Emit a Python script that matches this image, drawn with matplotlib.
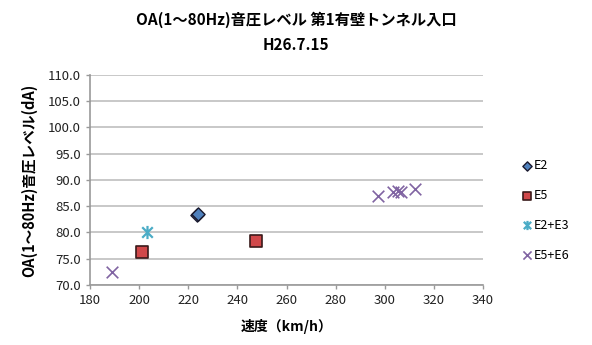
import matplotlib
matplotlib.use("Agg")
import matplotlib.pyplot as plt
from matplotlib.path import Path

plt.rcParams['font.family'] = ['Noto Sans CJK JP', 'DejaVu Sans']

# speed (km/h) vs OA level (dA) per train group
e2_speed = [223.4, 224.0]
e2_level = [83.3, 83.6]
e5_speed = [201.0, 247.6]
e5_level = [76.2, 78.3]
e2e3_speed = [203.1]
e2e3_level = [80.0]
e5e6_speed = [189.1, 297.1, 303.5, 305.5, 306.6, 312.3]
e5e6_level = [72.4, 87.0, 87.65, 87.9, 87.65, 88.3]

# Excel-like star: an x with a vertical stroke
star = Path([(-1, -1), (1, 1), (-1, 1), (1, -1), (0, -1.25), (0, 1.25)],
            [Path.MOVETO, Path.LINETO, Path.MOVETO, Path.LINETO, Path.MOVETO, Path.LINETO])

fig = plt.figure(figsize=(5.92, 3.45), dpi=100)
ax = fig.add_axes([0.152, 0.174, 0.664, 0.609])

ax.scatter(e2_speed, e2_level, marker='D', s=45, color='#4F81BD',
           edgecolor='#1a1a2e', linewidth=1.0, label='E2', zorder=3)
ax.scatter(e5_speed, e5_level, marker='s', s=70, color='#D0484A',
           edgecolor='#3a1a1a', linewidth=1.2, label='E5', zorder=3)
ax.scatter(e2e3_speed, e2e3_level, marker=star, s=90, color='#4BACC6',
           linewidth=1.6, label='E2+E3', zorder=3)
ax.scatter(e5e6_speed, e5e6_level, marker='x', s=70, color='#8064A2',
           linewidth=1.2, label='E5+E6', zorder=3)

ax.set_xlim(180, 340)
ax.set_ylim(70, 110)
ax.set_xticks(range(180, 341, 20))
ax.set_yticks(range(70, 111, 5))
ax.set_yticklabels([f'{v:.1f}' for v in range(70, 111, 5)])
ax.tick_params(labelsize=9.5, length=3, color='#999999', width=1, labelcolor='#222222')
ax.yaxis.grid(True, color='#bfbfbf', linewidth=1.2)
ax.set_axisbelow(True)
for side in ['top', 'right']:
    ax.spines[side].set_visible(False)
for side in ['left', 'bottom']:
    ax.spines[side].set_color('#999999')
    ax.spines[side].set_linewidth(1.2)

ax.set_xlabel('速度（km/h）', fontsize=10, fontweight='bold', labelpad=9)
ax.set_ylabel('OA(1～80Hz)音圧レベル(dA)', fontsize=10.5, fontweight='bold', labelpad=8)
fig.text(0.5, 0.942, 'OA(1～80Hz)音圧レベル 第1有壁トンネル入口',
         ha='center', va='center', fontsize=11, fontweight='bold')
fig.text(0.5, 0.87, 'H26.7.15', ha='center', va='center', fontsize=11, fontweight='bold')

ax.legend(loc='upper left', bbox_to_anchor=(0.86, 0.572), bbox_transform=fig.transFigure,
          frameon=False, fontsize=9, labelspacing=1.35, handletextpad=0.1,
          handlelength=1.0, markerscale=0.7)

fig.savefig('out.png', dpi=100)
